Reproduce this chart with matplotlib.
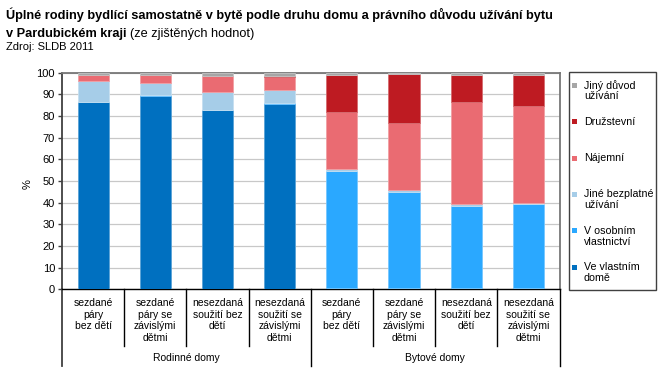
import matplotlib
matplotlib.use("Agg")
import numpy as np
import matplotlib.pyplot as plt
from matplotlib.patches import Rectangle
from matplotlib.colors import to_rgb

plt.rcParams["font.family"] = ["Liberation Sans", "DejaVu Sans"]

# ---------------------------------------------------------------------------
# data (%), stacked from the bottom up
# ---------------------------------------------------------------------------
categories = ["sezdané\npáry\nbez dětí", "sezdané\npáry se\nzávislými\ndětmi",
              "nesezdaná\nsoužití bez\ndětí", "nesezdaná\nsoužití se\nzávislými\ndětmi",
              "sezdané\npáry\nbez dětí", "sezdané\npáry se\nzávislými\ndětmi",
              "nesezdaná\nsoužití bez\ndětí", "nesezdaná\nsoužití se\nzávislými\ndětmi"]
groups = ["Rodinné domy", "Bytové domy"]

ve_vlastnim_dome = [86.6, 89.4, 82.9, 85.7, 0.4, 0.4, 0.4, 0.4]
v_osobnim_vlastnictvi = [0.1, 0.1, 0.1, 0.1, 54.4, 44.6, 38.2, 39.0]
jine_bezplatne = [9.6, 5.6, 7.9, 6.1, 0.6, 0.7, 0.6, 0.6]
najemni = [2.5, 3.8, 7.6, 6.3, 26.4, 31.0, 47.3, 44.6]
druzstevni = [0.1, 0.1, 0.1, 0.1, 17.1, 22.6, 12.4, 14.3]
jiny_duvod = [1.1, 1.0, 1.4, 1.7, 1.1, 0.7, 1.1, 1.1]

series = [
    ("Ve vlastním\ndomě", ve_vlastnim_dome, "#0070C0"),
    ("V osobním\nvlastnictví", v_osobnim_vlastnictvi, "#2AA8FF"),
    ("Jiné bezplatné\nužívání", jine_bezplatne, "#A6CDE8"),
    ("Nájemní", najemni, "#EA6B72"),
    ("Družstevní", druzstevni, "#BE1B22"),
    ("Jiný důvod\nužívání", jiny_duvod, "#A6A6A6"),
]

W, H = 668, 385


def lighter(c, f=0.35):
    r, g, b = to_rgb(c)
    return (r + (1 - r) * f, g + (1 - g) * f, b + (1 - b) * f)


fig = plt.figure(figsize=(W / 100, H / 100), dpi=100)
fig.patch.set_facecolor("white")

# plot area in pixels: x 62..559.5, y 72.7..289.3
ax_l, ax_r, ax_t, ax_b = 62, 559.5, 72.7, 289.3
ax = fig.add_axes([ax_l / W, 1 - ax_b / H, (ax_r - ax_l) / W, (ax_b - ax_t) / H])
ax_h = ax_b - ax_t

x = np.arange(len(categories))
bottom = np.zeros(len(categories))
for name, vals, col in series:
    ax.bar(x, vals, width=0.5, bottom=bottom, color=col,
           edgecolor=lighter(col), linewidth=0.6, zorder=3)
    bottom += np.array(vals)

ax.set_xlim(-0.5, len(categories) - 0.5)
ax.set_ylim(0, 100)
ax.set_yticks(np.arange(0, 101, 10))
ax.tick_params(axis="y", length=3, width=1, color="#404040", labelsize=8, pad=2)
ax.set_xticks([])
ax.grid(True, axis="y", color="#C8C8C8", linewidth=0.9, zorder=0)
ax.set_axisbelow(True)

ax.spines["left"].set_color("#404040")
ax.spines["left"].set_linewidth(1.3)
ax.spines["bottom"].set_color("black")
ax.spines["bottom"].set_linewidth(1.0)
for s in ("top", "right"):
    ax.spines[s].set_color("#777777")
    ax.spines[s].set_linewidth(1.3)

# two-level category axis
tr = ax.get_xaxis_transform()
inner_end = -(346 - ax_b) / ax_h
outer_end = -(366 - ax_b) / ax_h
for xb in [0.5, 1.5, 2.5, 4.5, 5.5, 6.5]:
    ax.plot([xb, xb], [0, inner_end], transform=tr, color="black",
            linewidth=1.0, clip_on=False)
for xb in [-0.5, 3.5, 7.5]:
    ax.plot([xb, xb], [0, outer_end], transform=tr,
            color="#404040" if xb < 0 else "black", linewidth=1.3 if xb < 0 else 1.0,
            clip_on=False)

line_pitch = 11.7
for xi, lab in zip(x, categories):
    for k, ln in enumerate(lab.split("\n")):
        yy = -(303 + k * line_pitch - ax_b) / ax_h
        ax.text(xi, yy, ln, transform=tr, ha="center", va="center",
                fontsize=7.5, color="black")

for gi, g in enumerate(groups):
    ax.text(1.5 + gi * 4, -(358 - ax_b) / ax_h, g, transform=tr,
            ha="center", va="center", fontsize=7.5, color="black")

fig.text(28 / W, 1 - 184 / H, "%", rotation=90, ha="center", va="center",
         fontsize=8)

# titles
tx = 6
fig.text(tx / W, 1 - 15 / H, "Úplné rodiny bydlící samostatně v bytě podle druhu domu "
         "a právního důvodu užívání bytu", fontsize=9.2, fontweight="bold",
         ha="left", va="center")
t = fig.text(tx / W, 1 - 33.5 / H, "v Pardubickém kraji", fontsize=9.2,
             fontweight="bold", ha="left", va="center")
fig.canvas.draw()
bb = t.get_window_extent()
fig.text((bb.x1 + 3) / W, 1 - 33.5 / H, "(ze zjištěných hodnot)", fontsize=9.2,
         ha="left", va="center")
fig.text(tx / W, 1 - 46.5 / H, "Zdroj: SLDB 2011", fontsize=8, ha="left",
         va="center")

# legend (top entry = top of stack)
fig.patches.append(Rectangle((569.3 / W, 1 - 290 / H), (655.7 - 569.3) / W,
                             (290 - 71.7) / H, transform=fig.transFigure,
                             facecolor="white", edgecolor="#404040",
                             linewidth=1.0))
y0, pitch = 85.5, 36.3
for i, (name, vals, col) in enumerate(reversed(series)):
    yc = y0 + i * pitch
    fig.patches.append(Rectangle((572 / W, 1 - (yc + 2.5) / H), 5 / W, 5 / H,
                                 transform=fig.transFigure, facecolor=col,
                                 edgecolor="none"))
    for k, ln in enumerate(name.split("\n")):
        fig.text(584 / W, 1 - (yc + k * 11) / H, ln, fontsize=7.7,
                 ha="left", va="center")

fig.savefig("out.png", dpi=100)
